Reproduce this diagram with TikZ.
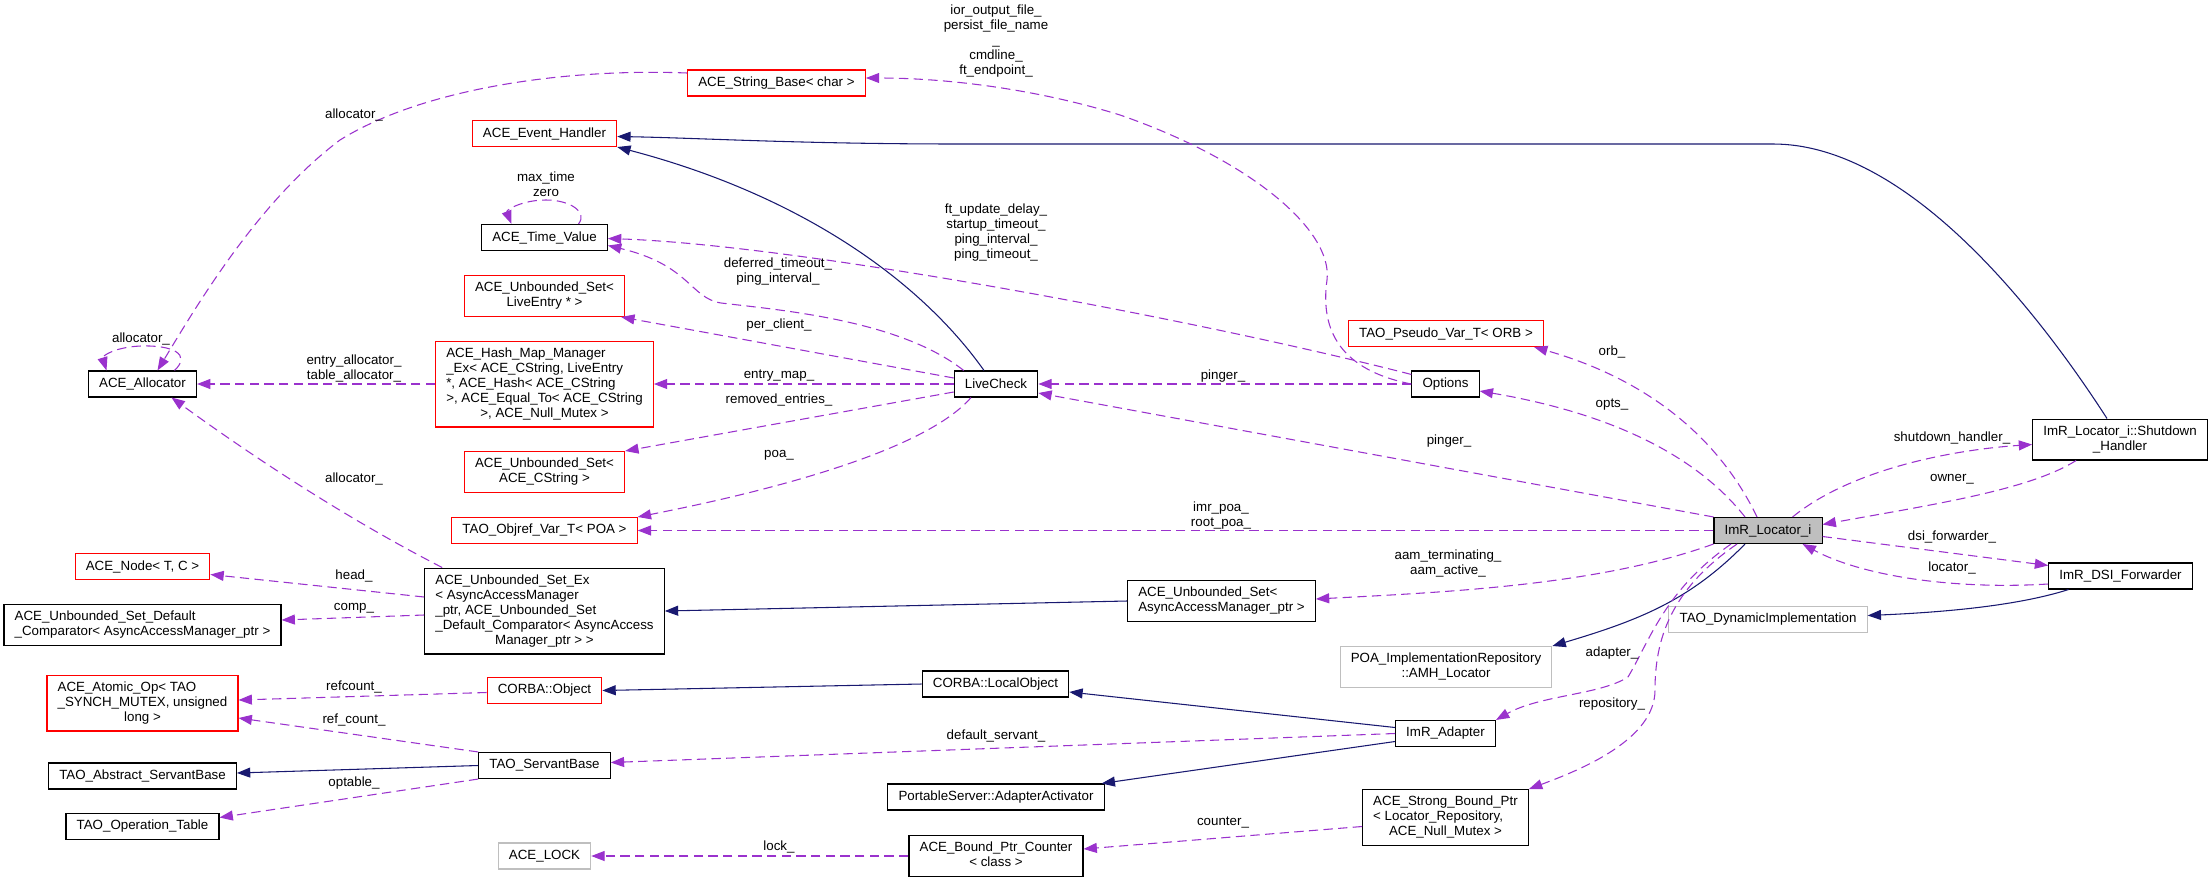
\documentclass[tikz,border=0pt]{standalone}
\usepackage{fontspec}
\setmainfont{Liberation Sans}
\usetikzlibrary{arrows.meta,calc}
\definecolor{doxpurple}{HTML}{9A32CD}
\definecolor{doxnavy}{HTML}{191970}
\definecolor{grey75}{HTML}{BFBFBF}
% wrapped class name: left aligned lines, last line centred
\newcommand{\wrapped}[2]{\begin{tabular}{@{}l@{}}#1\\\multicolumn{1}{@{}c@{}}{#2}\end{tabular}}
\tikzset{
  cls/.style={draw=black, line width=0.8pt, inner xsep=8pt, inner ysep=4.1pt,
    minimum height=19.5pt, font=\fontsize{10}{11.25}\selectfont},
  redcls/.style={cls, draw=red},
  extcls/.style={cls, draw=grey75},
  lbl/.style={font=\fontsize{10}{11.25}\selectfont, align=center, inner sep=0pt},
  uses/.style={doxpurple, line width=0.8pt, dash pattern=on 7pt off 4pt,
    -{Triangle[length=10pt,width=7.5pt]}},
  inherit/.style={doxnavy, line width=0.8pt, -{Triangle[length=10pt,width=7.5pt]}},
}
\begin{document}
\begin{tikzpicture}[x=0.75pt,y=-0.75pt]
\useasboundingbox (0,0) rectangle (2209,882);
% classes
\node[cls] (alloc) at (142.5,384) {ACE\_Allocator};
\node[redcls] (acenode) at (142.5,566.5) {ACE\_Node< T, C >};
\node[cls] (comp) at (142.5,625) {\wrapped{ACE\_Unbounded\_Set\_Default}{\_Comparator< AsyncAccessManager\_ptr >}};
\node[redcls] (atomic) at (142.5,703) {\wrapped{ACE\_Atomic\_Op< TAO\\\_SYNCH\_MUTEX, unsigned}{long >}};
\node[cls] (abstract) at (142.5,776) {TAO\_Abstract\_ServantBase};
\node[cls] (optable) at (142.5,826.5) {TAO\_Operation\_Table};
\node[redcls] (strbase) at (776.5,83) {ACE\_String\_Base< char >};
\node[redcls] (evh) at (544.5,133.5) {ACE\_Event\_Handler};
\node[cls] (timev) at (544.5,237.5) {ACE\_Time\_Value};
\node[redcls] (setlive) at (544.5,296) {\wrapped{ACE\_Unbounded\_Set<}{LiveEntry * >}};
\node[redcls] (hashmap) at (544.5,384) {\wrapped{ACE\_Hash\_Map\_Manager\\\_Ex< ACE\_CString, LiveEntry\\{}*, ACE\_Hash< ACE\_CString\\>, ACE\_Equal\_To< ACE\_CString}{>, ACE\_Null\_Mutex >}};
\node[redcls] (setcs) at (544.5,472) {\wrapped{ACE\_Unbounded\_Set<}{ACE\_CString >}};
\node[redcls] (objref) at (544.5,530.5) {TAO\_Objref\_Var\_T< POA >};
\node[cls] (setex) at (544.5,611) {\wrapped{ACE\_Unbounded\_Set\_Ex\\< AsyncAccessManager\\\_ptr, ACE\_Unbounded\_Set\\\_Default\_Comparator< AsyncAccess}{Manager\_ptr > >}};
\node[redcls] (corbaobj) at (544.5,690.5) {CORBA::Object};
\node[cls] (servant) at (544.5,765.5) {TAO\_ServantBase};
\node[extcls] (lock) at (544.5,856) {ACE\_LOCK};
\node[cls] (livecheck) at (996,384) {LiveCheck};
\node[cls] (localobj) at (995.5,684) {CORBA::LocalObject};
\node[cls] (activator) at (996,797) {PortableServer::AdapterActivator};
\node[cls] (counter) at (996,856) {\wrapped{ACE\_Bound\_Ptr\_Counter}{< class >}};
\node[cls] (setaam) at (1221.5,601) {\wrapped{ACE\_Unbounded\_Set<}{AsyncAccessManager\_ptr >}};
\node[redcls] (pseudo) at (1446,333.5) {TAO\_Pseudo\_Var\_T< ORB >};
\node[cls] (options) at (1445.5,384) {Options};
\node[extcls] (amh) at (1446,667) {\wrapped{POA\_ImplementationRepository}{::AMH\_Locator}};
\node[cls] (adapter) at (1445.5,733.5) {ImR\_Adapter};
\node[cls] (strong) at (1445.5,817.5) {\wrapped{ACE\_Strong\_Bound\_Ptr\\< Locator\_Repository,}{ACE\_Null\_Mutex >}};
\node[cls, fill=grey75] (locator) at (1768,530.5) {ImR\_Locator\_i};
\node[extcls] (dynimpl) at (1768,619.5) {TAO\_DynamicImplementation};
\node[cls] (shutdown) at (2120,439.5) {\wrapped{ImR\_Locator\_i::Shutdown}{\_Handler}};
\node[cls] (dsi) at (2120.5,576) {ImR\_DSI\_Forwarder};
% inheritance
\draw[inherit] ($(shutdown.north)+(-13,0)$) .. controls (2026,293) and (1900,144) .. (1773,144)
  -- (960,144) .. controls (800,144) and (700,138) .. ($(evh.east)+(0,3)$);
\draw[inherit] ($(livecheck.north)+(-12,0)$) .. controls (920,280) and (800,195) .. (evh.south east);
\draw[inherit] (setaam.west) -- (setex.east);
\draw[inherit] (localobj.west) -- (corbaobj.east);
\draw[inherit] ($(adapter.west)+(0,-6)$) -- ($(localobj.east)+(0,8)$);
\draw[inherit] ($(adapter.west)+(0,8)$) -- ($(activator.north east)+(-3,0)$);
\draw[inherit] (servant.west) -- ($(abstract.east)+(0,-3)$);
\draw[inherit] ($(locator.south)+(-23,0)$) .. controls (1690,600) and (1640,620) .. (amh.north east);
\draw[inherit] ($(dsi.south)+(-52,0)$) .. controls (2020,605) and (1950,612) .. ($(dynimpl.east)+(0,-4)$);
% members
\draw[uses] ($(alloc.north)+(32,0)$) .. controls (192,354) and (172,345) .. (141,346)
  .. controls (115,347) and (102,356) .. ($(alloc.north)+(-36,0)$);
\draw[uses] ($(strbase.west)+(0,-10)$) .. controls (560,68) and (420,90) .. (340,140)
  .. controls (260,200) and (200,300) .. ($(alloc.north)+(15,0)$);
\draw[uses] (hashmap.west) -- (alloc.east);
\draw[uses] ($(setex.north west)+(18,0)$) .. controls (330,510) and (230,440) .. ($(alloc.south)+(29,0)$);
\draw[uses] ($(timev.north)+(34,0)$) .. controls (588,212) and (570,200) .. (546,200)
  .. controls (522,200) and (506,210) .. ($(timev.north)+(-33,0)$);
\draw[uses] (options.west) .. controls (1340,370) and (1320,330) .. (1327,280)
  .. controls (1333,230) and (1250,160) .. (1120,115)
  .. controls (1040,90) and (950,78) .. ($(strbase.east)+(0,-5)$);
\draw[uses] ($(options.north west)+(0,4)$) .. controls (1200,320) and (800,245) .. ($(timev.east)+(0,1)$);
\draw[uses] ($(livecheck.north west)+(10,0)$) .. controls (900,320) and (780,310) .. (721,303)
  .. controls (690,298) and (690,265) .. ($(timev.east)+(0,8)$);
\draw[uses] ($(livecheck.west)+(0,-6)$) -- ($(setlive.south east)+(-4,0)$);
\draw[uses] (livecheck.west) -- (hashmap.east);
\draw[uses] ($(livecheck.west)+(0,8)$) -- (setcs.north east);
\draw[uses] ($(livecheck.south)+(-25,0)$) .. controls (930,445) and (800,485) .. (objref.north east);
\draw[uses] (options.west) -- (livecheck.east);
\draw[uses] (locator.north west) -- ($(livecheck.east)+(0,9)$);
\draw[uses] (locator.west) -- (objref.east);
\draw[uses] ($(locator.north)+(-23,0)$) .. controls (1700,460) and (1620,415) .. ($(options.east)+(0,7)$);
\draw[uses] ($(locator.north)+(-11,0)$) .. controls (1720,440) and (1650,380) .. ($(pseudo.south east)+(-10,0)$);
\draw[uses] ($(locator.north east)+(-30,0)$) .. controls (1850,470) and (1950,450) .. ($(shutdown.west)+(0,5)$);
\draw[uses] ($(shutdown.south west)+(44,0)$) .. controls (2030,490) and (1930,505) .. ($(locator.east)+(0,-6)$);
\draw[uses] ($(locator.east)+(0,6)$) -- ($(dsi.north west)+(0,3)$);
\draw[uses] ($(dsi.west)+(0,8)$) .. controls (1950,590) and (1860,575) .. ($(locator.south east)+(-20,0)$);
\draw[uses] (locator.south west) .. controls (1600,585) and (1450,592) .. ($(setaam.east)+(0,-2)$);
\draw[uses] ($(locator.south)+(-37,0)$) .. controls (1665,590) and (1650,640) .. (1628,677)
  .. controls (1600,695) and (1540,695) .. (adapter.north east);
\draw[uses] ($(locator.south)+(-31,0)$) .. controls (1670,590) and (1655,640) .. (1655,690)
  .. controls (1655,740) and (1580,770) .. (strong.north east);
\draw[uses] (adapter.west) -- ($(servant.east)+(0,-3)$);
\draw[uses] ($(strong.west)+(0,9)$) -- ($(counter.east)+(0,-7)$);
\draw[uses] (counter.west) -- (lock.east);
\draw[uses] ($(setex.west)+(0,-14)$) -- ($(acenode.east)+(0,8)$);
\draw[uses] ($(setex.west)+(0,4)$) -- ($(comp.east)+(0,-5)$);
\draw[uses] ($(corbaobj.west)+(0,2)$) -- ($(atomic.east)+(0,-3)$);
\draw[uses] (servant.north west) -- ($(atomic.east)+(0,15)$);
\draw[uses] (servant.south west) -- ($(optable.east)+(0,-9)$);
% member labels
\node[lbl] (lallocself) at (141,339) {allocator\_};
\node[lbl] (lallocstr) at (354,115) {allocator\_};
\node[lbl] (lallocmap) at (354,368.5) {entry\_allocator\_\\table\_allocator\_};
\node[lbl] (lallocset) at (354,479) {allocator\_};
\node[lbl] (lhead) at (354,576) {head\_};
\node[lbl] (lcomp) at (354,608) {comp\_};
\node[lbl] (lrefcount) at (354,687) {refcount\_};
\node[lbl] (lrefcount2) at (354,720) {ref\_count\_};
\node[lbl] (loptable) at (354,783) {optable\_};
\node[lbl] (ltime) at (546,184.5) {max\_time\\zero};
\node[lbl] (lstrings) at (996,41.5) {ior\_output\_file\_\\persist\_file\_name\\\_\\cmdline\_\\ft\_endpoint\_};
\node[lbl] (ltimeouts) at (996,233) {ft\_update\_delay\_\\startup\_timeout\_\\ping\_interval\_\\ping\_timeout\_};
\node[lbl] (ldeferred) at (778,271.5) {deferred\_timeout\_\\ping\_interval\_};
\node[lbl] (lperclient) at (779,325) {per\_client\_};
\node[lbl] (lentrymap) at (779,376) {entry\_map\_};
\node[lbl] (lremoved) at (779,400) {removed\_entries\_};
\node[lbl] (lpoa) at (779,455) {poa\_};
\node[lbl] (llock) at (779,847) {lock\_};
\node[lbl] (lpinger) at (1223,376) {pinger\_};
\node[lbl] (lrootpoa) at (1221,515.5) {imr\_poa\_\\root\_poa\_};
\node[lbl] (laam) at (1448,563.5) {aam\_terminating\_\\aam\_active\_};
\node[lbl] (lservant) at (996,736) {default\_servant\_};
\node[lbl] (lcounter) at (1223,823) {counter\_};
\node[lbl] (lorb) at (1612,352) {orb\_};
\node[lbl] (lopts) at (1612,405) {opts\_};
\node[lbl] (lpinger2) at (1449,441) {pinger\_};
\node[lbl] (lshutdown) at (1952,438) {shutdown\_handler\_};
\node[lbl] (lowner) at (1952,479) {owner\_};
\node[lbl] (ldsi) at (1952,537) {dsi\_forwarder\_};
\node[lbl] (llocator) at (1952,568) {locator\_};
\node[lbl] (ladapter) at (1612,653) {adapter\_};
\node[lbl] (lrepo) at (1612,704) {repository\_};
\end{tikzpicture}
\end{document}
